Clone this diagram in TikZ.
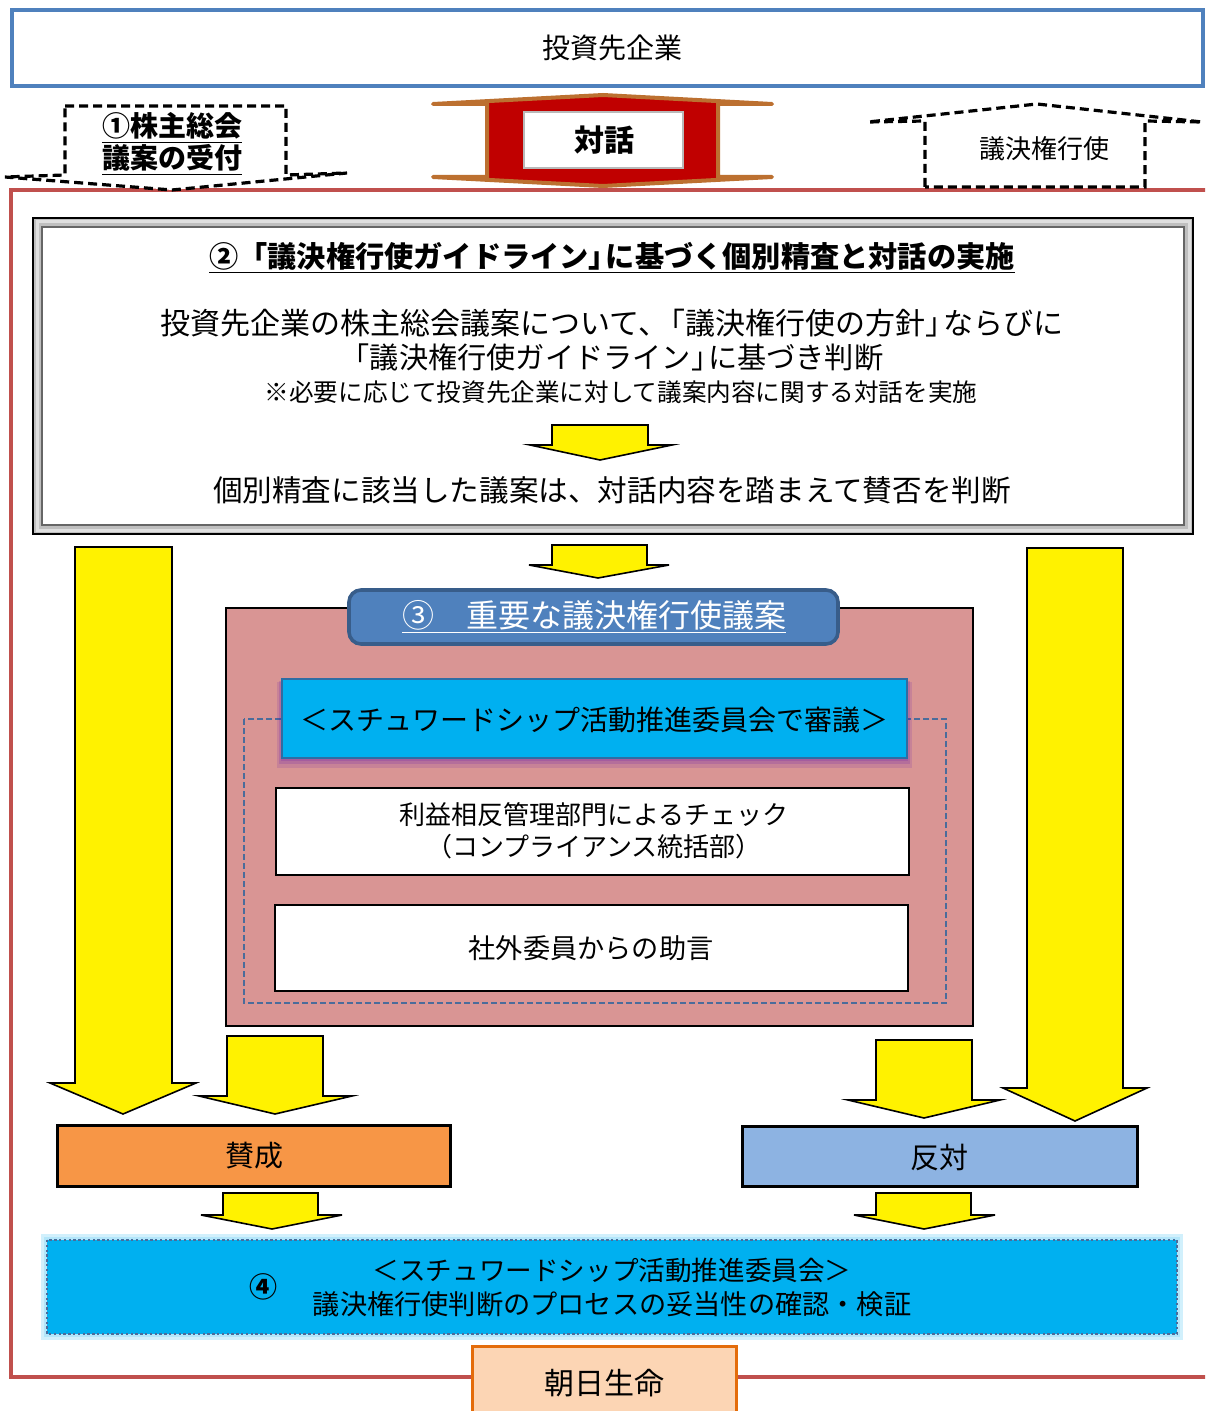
\documentclass[tikz,border=0pt]{standalone}
\usepackage{fontspec}
\setmainfont{Noto Sans CJK JP}
\newcommand{\fsz}[1]{\fontsize{#1pt}{#1pt}\selectfont}
\newcommand{\negkern}{\hspace{-0.42em}}
\definecolor{topblue}{HTML}{4F81BD}
\definecolor{framered}{HTML}{C0504D}
\definecolor{taiwared}{HTML}{C00000}
\definecolor{taiwabrown}{RGB}{188,112,48}
\definecolor{pinkfill}{HTML}{D99594}
\definecolor{titleblue}{HTML}{4F81BD}
\definecolor{titledark}{HTML}{385D8A}
\definecolor{cyanfill}{HTML}{00B0F0}
\definecolor{cyanborder}{HTML}{2E6DA4}
\definecolor{sansei}{HTML}{F79646}
\definecolor{hantai}{HTML}{8DB3E2}
\definecolor{peach}{HTML}{FCD5B4}
\definecolor{orangeb}{HTML}{E46C0A}
\definecolor{dashblue}{HTML}{4A6C9B}
\newcommand{\blockdown}[8]{\filldraw[yarrow] (#1,#3) -- (#2,#3) -- (#2,#4) -- (#6,#4) -- (#7,#8) -- (#5,#4) -- (#1,#4) -- cycle;}
\begin{document}
\begin{tikzpicture}[x=0.5pt,y=-0.5pt,
  every node/.style={inner sep=0pt},
  yarrow/.style={fill=yellow, draw=black, line width=0.8pt, line join=miter},
  dashedbox/.style={draw=black, fill=white, line width=1.6pt, dash pattern=on 4.5pt off 2.5pt, line join=miter},
  plainbox/.style={draw=black, line width=1.2pt}]
\useasboundingbox (0,0) rectangle (1205,1411);
\clip (0,0) rectangle (1205,1411);
\fill[white] (0,0) rectangle (1205,1411);

% top box
\draw[line width=2pt, topblue, fill=white] (12,10) rectangle (1203,86);
\node[font=\fsz{14}] (company) at (612,48) {投資先企業};

% outer red frame
\draw[line width=2pt, framered] (1225,190) -- (11,190) -- (11,1377) -- (1225,1377);

% (1) dashed down arrow
\draw[dashedbox] (65,106) -- (286,106) -- (286,175) -- (347,173) -- (172,190) -- (5,177) -- (65,175) -- cycle;
\node[font=\fsz{14}\bfseries] (s1a) at (172,128) {\underline{①株主総会}};
\node[font=\fsz{14}\bfseries] (s1b) at (172,160) {\underline{議案の受付}};

% taiwa up-down arrow
\filldraw[line width=2pt, draw=taiwabrown, fill=taiwared, line join=round] (603,95) -- (772,104) -- (718,104) -- (718,177) -- (772,177) -- (603,186) -- (433,177) -- (487,177) -- (487,104) -- (433,104) -- cycle;
\draw[gray!55, line width=1pt, fill=white] (524,112) rectangle (683,168);
\node[font=\fsz{15}\bfseries] (taiwa) at (604,140) {対話};

% vote exercise dashed up arrow
\draw[dashedbox] (925,187) -- (925,121) -- (868,122) -- (1037,104) -- (1202,122) -- (1145,121) -- (1145,187) -- cycle;
\node[font=\fsz{13}] (koushi) at (1044,149) {議決権行使};

% (2) box
\fill[gray!50] (33,218) rectangle (1193,534);
\fill[white] (42,227) rectangle (1184,525);
\draw[black, line width=1.2pt] (33,218) rectangle (1193,534);
\draw[black!60, line width=0.6pt] (42,227) rectangle (1184,525);
\draw[gray!25, line width=1.5pt] (37,222) rectangle (1189,530);
\node[font=\fsz{14.6}\bfseries] (s2title) at (612,258) {\underline{②「議決権行使ガイドライン」\negkern に基づく個別精査と対話の実施}};
\node[font=\fsz{15}] (s2l1) at (612,323) {投資先企業の株主総会議案について、\negkern「議決権行使の方針」\negkern ならびに};
\node[font=\fsz{14.6}] (s2l2) at (612,357) {「議決権行使ガイドライン」\negkern に基づき判断};
\node[font=\fsz{12.3}] (s2l3) at (621,392) {※必要に応じて投資先企業に対して議案内容に関する対話を実施};
\blockdown{552}{648}{425}{445}{530}{672}{600}{460}
\node[font=\fsz{14.8}] (s2l4) at (612,490) {個別精査に該当した議案は、対話内容を踏まえて賛否を判断};

% arrow below (2)
\blockdown{552}{647}{545}{565}{529}{669}{598}{578}

% (3) box
\draw[fill=pinkfill, line width=1pt] (226,608) rectangle (973,1026);
\draw[dashblue, line width=0.6pt, dash pattern=on 3pt off 1.5pt] (244,719) rectangle (946,1003);
\fill[violet!60!blue, opacity=0.12] (277,682) rectangle (912,768);
\fill[violet!60!blue, opacity=0.15] (279,681) rectangle (910,764);
\fill[violet!60!blue, opacity=0.15] (281,680) rectangle (908,761);
\draw[fill=cyanfill, draw=cyanborder, line width=1.2pt] (282,679) rectangle (907,758);
\node[font=\fsz{14}] (shingi) at (594,720) {＜スチュワードシップ活動推進委員会で審議＞};
\draw[rounded corners=6pt, fill=titleblue, draw=titledark, line width=1.8pt] (349,590) rectangle (838,644);
\node[font=\fsz{16}, text=white] (s3title) at (594,617) {\underline{③　重要な議決権行使議案}};
\draw[fill=white, plainbox] (276,788) rectangle (909,875);
\node[font=\fsz{13}] (check1) at (594,815) {利益相反管理部門によるチェック};
\node[font=\fsz{13}] (check2) at (594,847) {（コンプライアンス統括部）};
\draw[fill=white, plainbox] (275,905) rectangle (908,991);
\node[font=\fsz{13.6}] (advice) at (591,948) {社外委員からの助言};

% side and lower arrows
\blockdown{75}{172}{547}{1083}{50}{196}{123}{1114}
\blockdown{227}{323}{1036}{1096}{199}{352}{275}{1114}
\blockdown{1027}{1123}{548}{1088}{1003}{1147}{1075}{1121}
\blockdown{876}{972}{1040}{1100}{848}{1000}{924}{1118}

% approve / oppose
\draw[fill=sansei, line width=1.5pt] (57,1125) rectangle (450,1186);
\node[font=\fsz{14.5}] (approve) at (254,1156) {賛成};
\draw[fill=hantai, line width=1.5pt] (742,1126) rectangle (1137,1186);
\node[font=\fsz{14.5}] (oppose) at (939,1157) {反対};

\blockdown{223}{318}{1193}{1215}{201}{342}{272}{1229}
\blockdown{876}{971}{1193}{1215}{854}{995}{924}{1229}

% (4) box
\draw[line width=6pt, cyan!18] (47,1240) rectangle (1177,1334);
\draw[line width=3pt, cyan!30] (47,1240) rectangle (1177,1334);
\draw[fill=cyanfill, draw=dashblue, line width=0.9pt, dash pattern=on 1.2pt off 1.2pt] (47,1240) rectangle (1177,1334);
\node[font=\fsz{14}\bfseries] (s4num) at (263,1287) {④};
\node[font=\fsz{13.3}] (s4l1) at (612,1270) {＜スチュワードシップ活動推進委員会＞};
\node[font=\fsz{13.6}] (s4l2) at (612,1304) {議決権行使判断のプロセスの妥当性の確認・検証};

% Asahi Life box
\draw[fill=peach, draw=orangeb, line width=1.5pt] (472,1346) rectangle (736,1430);
\node[font=\fsz{15}] (asahi) at (604,1383) {朝日生命};
\end{tikzpicture}
\end{document}
